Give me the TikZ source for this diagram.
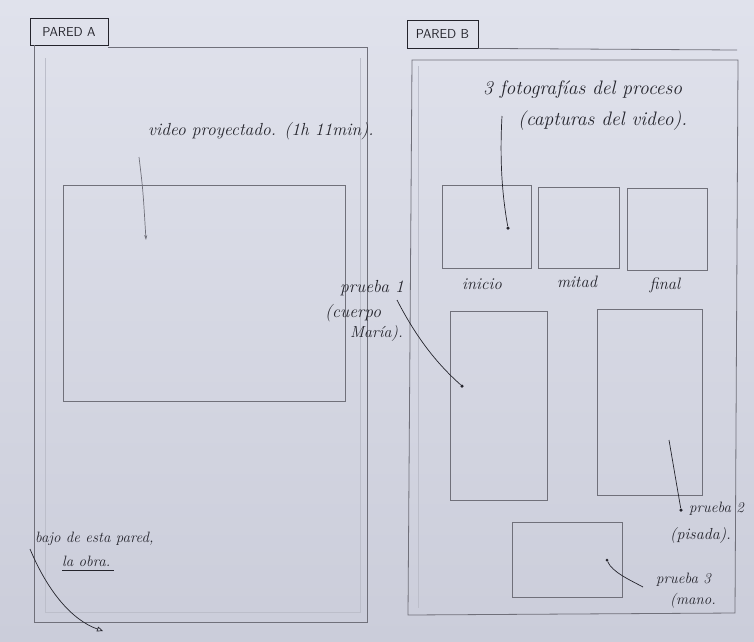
\documentclass[tikz,border=0pt]{standalone}
\usetikzlibrary{arrows.meta}
\definecolor{paperc}{RGB}{224,226,236}
\definecolor{paperd}{RGB}{203,205,218}
\definecolor{pencilc}{RGB}{112,112,122}
\definecolor{faintc}{RGB}{188,190,202}
\definecolor{inkc}{RGB}{36,36,44}
\newcommand{\hs}[1]{\fontsize{#1}{#1}\selectfont}
\begin{document}
\begin{tikzpicture}[x=1pt,y=-1pt,
  pencil/.style={draw=pencilc, line width=0.8pt},
  faint/.style={draw=faintc, line width=0.6pt},
  box/.style={draw=pencilc, line width=0.8pt, rectangle, inner sep=0pt},
  wallbox/.style={draw=inkc, line width=0.8pt, rectangle, inner sep=0pt, text=inkc, font=\sffamily\hs{13}},
  hand/.style={text=inkc, font=\itshape\hs{16}, inner sep=0pt},
  lead/.style={draw=inkc, line width=0.7pt},
  dotc/.style={circle, fill=inkc, inner sep=0pt, minimum size=3.5pt}
]
\useasboundingbox (0,0) rectangle (754,641);
\shade[top color=paperc, bottom color=paperd] (0,0) rectangle (754,641);

% ---------- PARED A ----------
\node[wallbox, minimum width=78pt, minimum height=27pt] (la) at (69,31.5) {PARED A};
\draw[pencil] (la.south east |- 0,47) -- (367,47) -- (367,622) -- (34,622) -- (34,45);
\draw[faint] (45,58) -- (45,612) -- (360,612) -- (360,58);
\node[box, minimum width=282pt, minimum height=216pt] (video) at (204,293) {};
\node[hand, anchor=west, font=\itshape\hs{17.5}] (tvideo) at (148,131) {video proyectado. (1h 11min).};
\coordinate (avideo) at (146,240);
\draw[draw=pencilc, line width=0.7pt, -{Stealth[length=5pt,width=3pt]}] (139,157) .. controls (143,190) .. (avideo);

\node[hand, anchor=west, font=\itshape\hs{15}] (tbajo1) at (35,539) {bajo de esta pared,};
\node[hand, anchor=west, font=\itshape\hs{15}] (tbajo2) at (62,561) {la obra.};
\draw[inkc, line width=1pt] (tbajo2.south west) ++(0,4) -- ++(52,0);
\coordinate (abajo) at (103,631);
\draw[lead, -{Triangle[open,length=6pt,width=5pt]}] (30,549) .. controls (48,592) and (72,620) .. (abajo);

% ---------- PARED B ----------
\node[wallbox, minimum width=71pt, minimum height=28pt] (lb) at (442.5,34) {PARED B};
\draw[pencil] (lb.south east) -- (737,50);
\draw[pencil] (412,60) -- (738,60) -- (735,613) -- (408,615) -- cycle;
\draw[faint] (418,66) -- (418,608);

\node[hand, anchor=west, font=\itshape\hs{19.5}] (tfoto1) at (483,90) {3 fotografías del proceso};
\node[hand, anchor=west, font=\itshape\hs{19.5}] (tfoto2) at (518,121) {(capturas del video).};

\node[box, minimum width=89pt, minimum height=83pt] (ph1) at (486.5,226.5) {};
\node[box, minimum width=81pt, minimum height=81pt] (ph2) at (578.5,227.5) {};
\node[box, minimum width=80pt, minimum height=82pt] (ph3) at (667,229) {};
\node[dotc] (dph) at (508,228) {};
\draw[lead] (502,116) .. controls (499,170) and (504,205) .. (dph);

\node[hand, font=\itshape\hs{16.5}] (tini) at (482,284) {inicio};
\node[hand, font=\itshape\hs{16.5}] (tmit) at (577,282) {mitad};
\node[hand, font=\itshape\hs{16.5}] (tfin) at (665,285) {final};

\node[box, minimum width=97pt, minimum height=189pt] (p1) at (498.5,405.5) {};
\node[box, minimum width=105pt, minimum height=186pt] (p2) at (649.5,402) {};
\node[box, minimum width=110pt, minimum height=75pt] (p3) at (567,559.5) {};

\node[hand, anchor=west, font=\itshape\hs{17.5}] (tp1a) at (340,288) {prueba 1};
\node[hand, anchor=west, font=\itshape\hs{17.5}] (tp1b) at (325,313) {(cuerpo};
\node[hand, anchor=west, font=\itshape\hs{16}] (tp1c) at (350,333) {María).};
\node[dotc] (dp1) at (462,386) {};
\draw[lead] (397,300) .. controls (415,335) and (435,362) .. (dp1);

\node[dotc] (dp2) at (681,510) {};
\draw[lead] (669,440) -- (dp2);
\node[hand, anchor=west, font=\itshape\hs{15}] (tp2a) at (689,509) {prueba 2};
\node[hand, anchor=west, font=\itshape\hs{16}] (tp2b) at (670,535) {(pisada).};

\node[dotc, minimum size=3pt] (dp3) at (607,560) {};
\draw[lead] (dp3) .. controls (612,572) and (630,580) .. (643,587);
\node[hand, anchor=west, font=\itshape\hs{15}] (tp3a) at (656,580) {prueba 3};
\node[hand, anchor=west, font=\itshape\hs{15}] (tp3b) at (670,601) {(mano.};
\end{tikzpicture}
\end{document}
